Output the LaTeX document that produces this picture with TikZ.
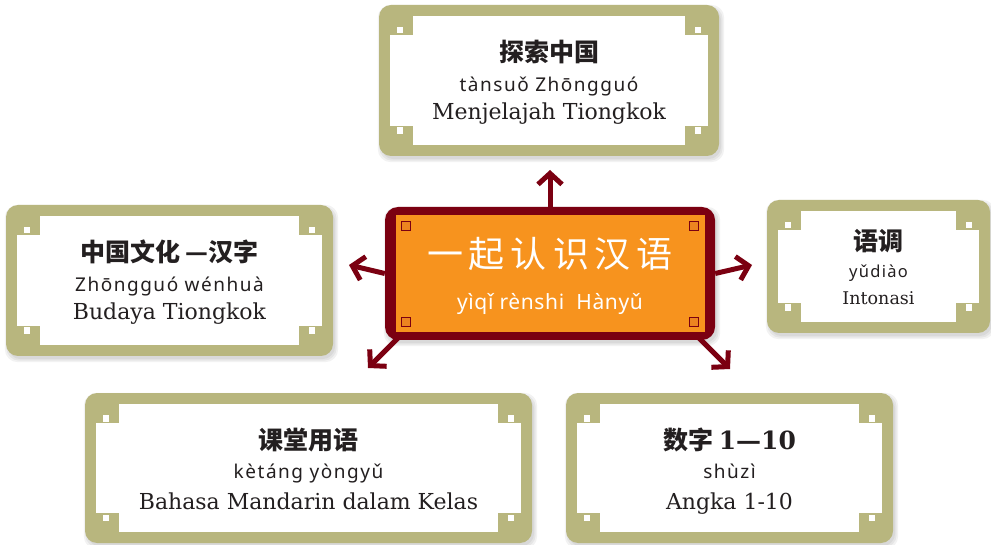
\documentclass[tikz,border=0pt]{standalone}
\usepackage{fontspec}
\setmainfont{DejaVu Serif}
\newfontfamily\zhf{Noto Sans CJK SC}
\newfontfamily\pyf[LetterSpace=8]{Noto Sans}
\newfontfamily\pybf[LetterSpace=3]{Noto Sans}
\newfontfamily\idf{DejaVu Serif}
\usetikzlibrary{arrows.meta}
\pgfdeclarelayer{background}
\pgfsetlayers{background,main}

\definecolor{frameol}{HTML}{B8B67E}
\definecolor{mapred}{HTML}{7B0011}
\definecolor{maporange}{HTML}{F7931E}
\definecolor{deeporange}{HTML}{EC8420}
\definecolor{inkgray}{HTML}{231F20}

\newcommand\olivedeco{%
  \fill[white, sharp corners] ([shift={(11pt,-11pt)}]path picture bounding box.north west) rectangle ([shift={(-11pt,11pt)}]path picture bounding box.south east);
  \foreach \a/\sx/\sy in {north west/1/-1,north east/-1/-1,south west/1/1,south east/-1/1}{
    \fill[frameol, sharp corners] ([shift={(\sx*11pt,\sy*11pt)}]path picture bounding box.\a) rectangle ++(\sx*23pt,\sy*19pt);
    \fill[white, sharp corners] ([shift={(\sx*18pt,\sy*22pt)}]path picture bounding box.\a) rectangle ++(\sx*6pt,\sy*6.5pt);
  }}
\newcommand\centerdeco{%
  \fill[maporange, sharp corners] ([shift={(10.5pt,-8pt)}]path picture bounding box.north west) rectangle ([shift={(-10.5pt,8pt)}]path picture bounding box.south east);
  \foreach \a/\sx/\sy in {north west/1/-1,north east/-1/-1,south west/1/1,south east/-1/1}{
    \filldraw[fill=deeporange, draw=mapred, line width=0.8pt, sharp corners] ([shift={(\sx*16.5pt,\sy*14pt)}]path picture bounding box.\a) rectangle ++(\sx*9pt,\sy*9pt);
  }}

\tikzset{
  topicbox/.style={rectangle, rounded corners=12pt, fill=frameol, inner sep=0pt, path picture={\olivedeco}},
  mainbox/.style={rectangle, rounded corners=13pt, fill=mapred, inner sep=0pt, path picture={\centerdeco}},
  zhtext/.style={font=\zhf\bfseries\fontsize{25}{28}\selectfont, text=inkgray, inner sep=0pt, anchor=base},
  pytext/.style={font=\pyf\fontsize{19}{22}\selectfont, text=inkgray, inner sep=0pt, anchor=base},
  idtext/.style={font=\idf\fontsize{22}{26}\selectfont, text=inkgray, inner sep=0pt, anchor=base},
  pysmall/.style={pytext, font=\pyf\fontsize{16.5}{20}\selectfont},
  idsmall/.style={idtext, font=\idf\fontsize{17.5}{21}\selectfont},
  maintitle/.style={font=\zhf\fontsize{36}{40}\selectfont, text=white, inner sep=0pt, anchor=base},
  mainpy/.style={font=\pybf\bfseries\fontsize{21}{24}\selectfont, text=white, inner sep=0pt, anchor=base},
  maparrow/.style={draw=mapred, line width=5pt, -{Straight Barb[length=11pt,width=24pt]}},
  boxshadow/.style={fill=black, opacity=0.05, rounded corners=13pt}
}

\begin{document}
\begin{tikzpicture}[x=1pt,y=-1pt]
\useasboundingbox (0,0) rectangle (991,545);

% boxes
\node[topicbox, minimum width=340pt, minimum height=151pt] (top) at (549,80.5) {};
\node[topicbox, minimum width=327pt, minimum height=151pt] (left) at (169.5,280.5) {};
\node[topicbox, minimum width=223pt, minimum height=133pt] (right) at (878.5,266.5) {};
\node[topicbox, minimum width=447pt, minimum height=150pt] (bl) at (308.5,468) {};
\node[topicbox, minimum width=327pt, minimum height=150pt] (br) at (729.5,468) {};
\node[mainbox, minimum width=330pt, minimum height=133pt] (c) at (550,273.5) {};

% texts
\node[zhtext] (top-zh) at ([yshift=19pt]top.center) {探索中国};
\node[pytext] (top-py) at ([yshift=-11pt]top.center) {tànsuǒ Zhōngguó};
\node[idtext] (top-id) at ([yshift=-39pt]top.center) {Menjelajah Tiongkok};

\node[zhtext] (left-zh) at ([yshift=18.5pt]left.center) {中国文化 —汉字};
\node[pytext] (left-py) at ([yshift=-11pt]left.center) {Zhōngguó wénhuà};
\node[idtext] (left-id) at ([yshift=-39.5pt]left.center) {Budaya Tiongkok};

\node[zhtext] (right-zh) at ([yshift=15.5pt]right.center) {语调};
\node[pysmall] (right-py) at ([yshift=-11.5pt]right.center) {yǔdiào};
\node[idsmall] (right-id) at ([yshift=-38.5pt]right.center) {Intonasi};

\node[zhtext] (bl-zh) at ([yshift=19pt]bl.center) {课堂用语};
\node[pytext] (bl-py) at ([yshift=-10pt]bl.center) {kètáng yòngyǔ};
\node[idtext] (bl-id) at ([yshift=-41pt]bl.center) {Bahasa Mandarin dalam Kelas};

\node[zhtext] (br-zh) at ([yshift=19pt]br.center) {数字 {\idf\bfseries 1—10}};
\node[pytext] (br-py) at ([yshift=-10pt]br.center) {shùzì};
\node[idtext] (br-id) at ([yshift=-41pt]br.center) {Angka 1-10};

\node[maintitle] (c-zh) at ([yshift=5.5pt]c.center) {一\hspace{6pt}起\hspace{6pt}认\hspace{6pt}识\hspace{6pt}汉\hspace{6pt}语};
\node[mainpy] (c-py) at ([yshift=-36.5pt]c.center) {yìqǐ rènshi\ \ Hànyǔ};

% arrow tips
\coordinate (tipU) at (550,170);
\coordinate (tipL) at (349,265);
\coordinate (tipR) at (752,265);
\coordinate (tipBL) at (368,368);
\coordinate (tipBR) at (730,369);

\begin{pgfonlayer}{background}
  \fill[white] (0,0) rectangle (991,545);
  \foreach \n in {top,left,right,bl,br,c}{
    \foreach \d in {0,1.5,3}{
      \fill[boxshadow] ([shift={(2pt-\d pt,-3pt-\d pt)}]\n.south west) rectangle ([shift={(2pt+\d pt,-3pt+\d pt)}]\n.north east);
    }
  }
  \draw[maparrow] (c.north) -- (tipU);
  \draw[maparrow] (c.west) -- (tipL);
  \draw[maparrow] (c.east) -- (tipR);
  \draw[maparrow] ([shift={(13pt,2pt)}]c.south west) -- (tipBL);
  \draw[maparrow] ([shift={(-16pt,2pt)}]c.south east) -- (tipBR);
\end{pgfonlayer}
\end{tikzpicture}
\end{document}
